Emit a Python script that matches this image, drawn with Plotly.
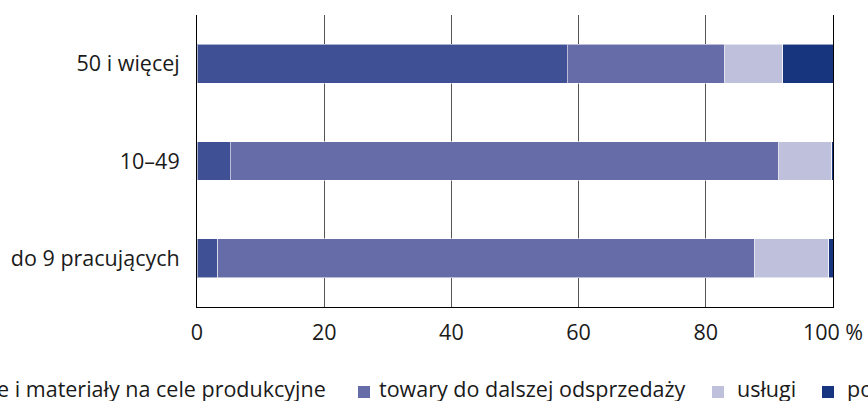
import plotly.graph_objects as go

categories = ["do 9 pracujących", "10–49", "50 i więcej"]
series_names = ["surowce i materiały na cele produkcyjne", "towary do dalszej odsprzedaży", "usługi", "pozostałe"]
surowce = [3.3, 5.2, 58.2]
towary = [84.3, 86.3, 24.8]
uslugi = [11.7, 8.3, 9.1]
pozostale = [0.7, 0.2, 7.9]
colors = ["#3F5094", "#666CA8", "#BFC0DC", "#17347F"]
tick_vals = [0, 20, 40, 60, 80, 100]
tick_text = ["0", "20", "40", "60", "80", "100 %"]

FONT = "Open Sans"
FS = 21.5
W, H = 868, 401
L, R, T, B = 197, 35, 15, 94
pw, ph = W - L - R, H - T - B

fig = go.Figure()
for name, vals, col in zip(series_names, [surowce, towary, uslugi, pozostale], colors):
    fig.add_trace(go.Bar(
        y=categories, x=vals, name=name, orientation="h",
        marker=dict(color=col, line=dict(color="rgba(255,255,255,0.55)", width=1)),
        showlegend=False, hoverinfo="skip",
    ))

# manual legend (overflowing the page, as in the reference)
def px2x(px):
    return (px - L) / pw

def py2y(py):
    return (H - B - py) / ph

leg_items = [
    (series_names[0], None, 328),   # right end of text
    (series_names[1], 377, None),
    (series_names[2], 735, None),
    (series_names[3], 845, None),
]
marker_px = [None, 358, 712, 822]
ly = 388
for i, (txt, xs, xe) in enumerate(leg_items):
    if xs is not None:
        fig.add_annotation(x=px2x(xs), y=py2y(ly), xref="paper", yref="paper", text=txt,
                           showarrow=False, xanchor="left", yanchor="middle",
                           font=dict(family=FONT, size=FS, color="#1a1a1a"))
    else:
        fig.add_annotation(x=px2x(xe), y=py2y(ly), xref="paper", yref="paper", text=txt,
                           showarrow=False, xanchor="right", yanchor="middle",
                           font=dict(family=FONT, size=FS, color="#1a1a1a"))
    if marker_px[i] is not None:
        m = marker_px[i]
        fig.add_shape(type="rect", xref="paper", yref="paper",
                      x0=px2x(m), x1=px2x(m + 12), y0=py2y(398), y1=py2y(386),
                      fillcolor=colors[i], line=dict(width=0))

fig.update_layout(
    width=W, height=H,
    margin=dict(l=L, r=R, t=T, b=B, pad=0),
    barmode="stack", bargap=0.6,
    plot_bgcolor="white", paper_bgcolor="white",
    font=dict(family=FONT, size=FS, color="#1a1a1a"),
    xaxis=dict(range=[0, 100], tickvals=tick_vals, ticktext=tick_text,
               showgrid=True, gridcolor="#555555", gridwidth=1,
               showline=True, linecolor="black", linewidth=1, automargin=False,
               zeroline=False, ticks="", ticklabelstandoff=6,
               tickfont=dict(family=FONT, size=FS, color="#1a1a1a")),
    yaxis=dict(showline=True, mirror=True, linecolor="black", linewidth=1,
               showgrid=False, zeroline=False, ticks="", ticklabelstandoff=12,
               automargin=False,
               tickfont=dict(family=FONT, size=FS, color="#1a1a1a")),
)

fig.write_html("out.html", config={"displayModeBar": False},
               post_script="document.body.style.margin='0px';document.body.style.overflow='hidden';")
